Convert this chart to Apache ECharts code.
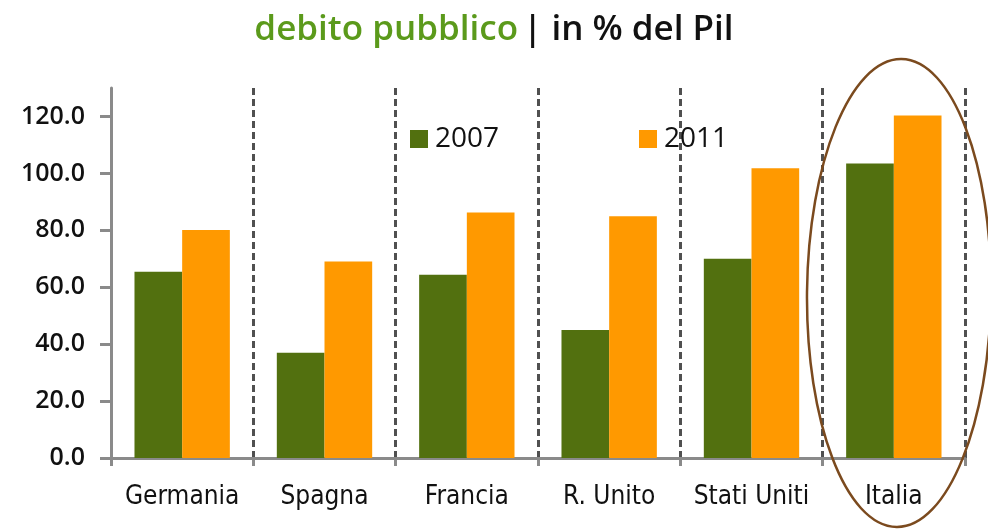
<!doctype html>
<html>
<head>
<meta charset="utf-8">
<title>debito pubblico</title>
<script src="https://cdn.jsdelivr.net/npm/echarts@6/dist/echarts.min.js"></script>
<style>
  html, body { margin: 0; padding: 0; background: #fff; }
  #main { width: 988px; height: 530px; }
</style>
</head>
<body>
<div id="main"></div>
<script>
// dati
var paesi = ['Germania', 'Spagna', 'Francia', 'R. Unito', 'Stati Uniti', 'Italia'];
var debito2007 = [65.4, 37.0, 64.4, 45.0, 70.0, 103.5];
var debito2011 = [80.1, 69.0, 86.3, 84.9, 101.8, 120.3];

var myChart = echarts.init(document.getElementById('main'));

var option = {
    animation: false,
    title: {
        text: '{g|debito pubblico} {b|| in % del Pil}',
        left: 'center',
        top: 8,
        textStyle: {
            rich: {
                g: { fontFamily: 'Open Sans', fontSize: 35, fontWeight: 600, color: '#5b9a1b' },
                b: { fontFamily: 'Open Sans', fontSize: 35, fontWeight: 600, color: '#111' }
            }
        }
    },
    legend: [{
        data: ['2007'],
        left: 405, top: 120,
        icon: 'rect', itemWidth: 18, itemHeight: 18,
        textStyle: { fontFamily: 'Open Sans', fontSize: 28, fontWeight: 500, color: '#111', padding: [0, 0, 0, 2] }
    }, {
        data: ['2011'],
        left: 634, top: 120,
        icon: 'rect', itemWidth: 18, itemHeight: 18,
        textStyle: { fontFamily: 'Open Sans', fontSize: 28, fontWeight: 500, color: '#111', padding: [0, 0, 0, 2] }
    }],
    grid: { left: 111, right: 23, top: 88, bottom: 72 },
    xAxis: {
        type: 'category',
        data: paesi,
        axisLine: { lineStyle: { color: '#8a8a8a', width: 3 } },
        axisTick: { show: true, interval: 0, length: 8, lineStyle: { color: '#8a8a8a', width: 3 } },
        axisLabel: {
            interval: 0,
            margin: 26,
            fontFamily: 'DejaVu Sans Condensed',
            fontSize: 26,
            color: '#111'
        },
        splitLine: {
            show: true,
            interval: 0,
            lineStyle: { color: '#505050', width: 3, type: [7, 4] }
        }
    },
    yAxis: {
        type: 'value',
        min: 0, max: 130, interval: 20,
        axisLine: { show: true, lineStyle: { color: '#8a8a8a', width: 3 } },
        axisTick: { show: true, length: 11, lineStyle: { color: '#8a8a8a', width: 3 } },
        axisLabel: {
            showMaxLabel: false,
            margin: 26,
            fontFamily: 'Open Sans',
            fontSize: 25,
            fontWeight: 600,
            color: '#111',
            formatter: function (v) { return v.toFixed(1); }
        },
        splitLine: { show: false }
    },
    series: [{
        name: '2007',
        type: 'bar',
        data: debito2007,
        barGap: '0%',
        barCategoryGap: '33%',
        itemStyle: { color: '#52700f' }
    }, {
        name: '2011',
        type: 'bar',
        data: debito2011,
        itemStyle: { color: '#ff9900' }
    }],
    graphic: [{
        type: 'ellipse',
        shape: { cx: 0, cy: 0, rx: 92, ry: 234 },
        x: 899, y: 293,
        rotation: -0.01,
        style: { fill: 'none', stroke: '#7b4a1e', lineWidth: 2.5 },
        z: 100
    }]
};

myChart.setOption(option);
</script>
</body>
</html>
